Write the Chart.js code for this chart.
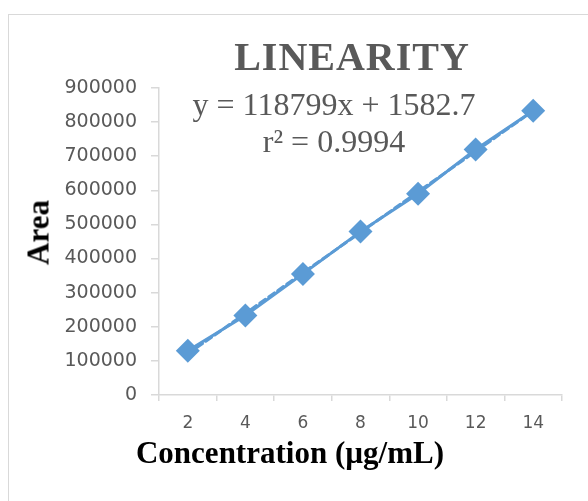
<!DOCTYPE html>
<html>
<head>
<meta charset="utf-8">
<script src="https://cdn.jsdelivr.net/npm/chart.js@4"></script>
<style>
  html, body { margin: 0; padding: 0; background: #fff; }
  body { width: 588px; height: 501px; overflow: hidden; position: relative; }
  #frame { position: absolute; left: 8px; top: 14px; width: 700px; height: 700px; border: 1px solid #d9d9d9; }
  #chart { position: absolute; left: 0; top: 0; }
  .txt { position: absolute; font-family: "Liberation Serif", "Times New Roman", serif; color: #595959; text-align: center; white-space: nowrap; }
  #title { left: 152px; width: 400px; top: 37px; font-size: 40px; line-height: 40px; font-weight: bold; letter-spacing: 1px; }
  #eq { left: 134px; width: 400px; top: 86px; font-size: 32px; line-height: 37px; }
  .axis-title { color: #000; font-weight: bold; font-size: 31px; line-height: 31px; height: 31px; }
  #xtitle { left: 90px; width: 400px; top: 437px; }
  #ytitle { left: -12px; width: 100px; top: 217px; transform: rotate(-90deg); }
</style>
</head>
<body>
<div id="frame"></div>
<canvas id="chart" width="588" height="501"></canvas>
<div id="title" class="txt">LINEARITY</div>
<div id="eq" class="txt">y = 118799x + 1582.7<br>r² = 0.9994</div>
<div id="xtitle" class="txt axis-title">Concentration (µg/mL)</div>
<div id="ytitle" class="txt axis-title">Area</div>
<script>
// data
const concentrations = ['2', '4', '6', '8', '10', '12', '14'];
const areas = [130000, 233000, 355000, 479000, 590000, 720000, 833000];
// linear trendline y = 118799x + 1582.7 (x = point index 1..7)
const trendValues = [120382, 239181, 357980, 476779, 595578, 714377, 833176];
const yTicks = [0, 100000, 200000, 300000, 400000, 500000, 600000, 700000, 800000, 900000];

const blue = '#5b9bd5';
const axisGrey = '#d9d9d9';
const labelGrey = '#595959';

const ctx = document.getElementById('chart').getContext('2d');
const chart = new Chart(ctx, {
  type: 'line',
  data: {
    labels: concentrations,
    datasets: [
      {
        label: 'Area',
        data: areas,
        borderColor: blue,
        backgroundColor: blue,
        borderWidth: 3,
        tension: 0,
        pointStyle: 'rectRot',
        pointRadius: 12,
        pointBorderWidth: 0,
        pointBackgroundColor: blue
      },
      {
        label: 'Linear (Area)',
        data: trendValues,
        borderColor: blue,
        borderWidth: 3,
        borderDash: [7, 4],
        borderCapStyle: 'round',
        tension: 0,
        pointRadius: 0
      }
    ]
  },
  options: {
    responsive: false,
    animation: false,
    layout: { padding: { top: 88, right: 26, left: 0, bottom: 0 } },
    plugins: { legend: { display: false }, tooltip: { enabled: false } },
    scales: {
      x: {
        type: 'category',
        offset: true,
        afterFit: s => { s.height = 106; },
        grid: { offset: true, drawOnChartArea: false, drawTicks: true, tickLength: 6, color: axisGrey, lineWidth: 1.5 },
        border: { display: true, color: axisGrey, width: 1.5 },
        ticks: { color: labelGrey, padding: 12, font: { family: 'DejaVu Sans', size: 17 } }
      },
      y: {
        min: 0,
        max: 900000,
        afterFit: s => { s.width = 159; },
        afterBuildTicks: s => { s.ticks = yTicks.map(v => ({ value: v })); },
        grid: { drawOnChartArea: false, drawTicks: true, tickLength: 8, color: axisGrey, lineWidth: 1.5 },
        border: { display: true, color: axisGrey, width: 1.5 },
        ticks: { color: labelGrey, padding: 14, font: { family: 'DejaVu Sans', size: 19 }, callback: v => String(v) }
      }
    }
  }
});
</script>
</body>
</html>
